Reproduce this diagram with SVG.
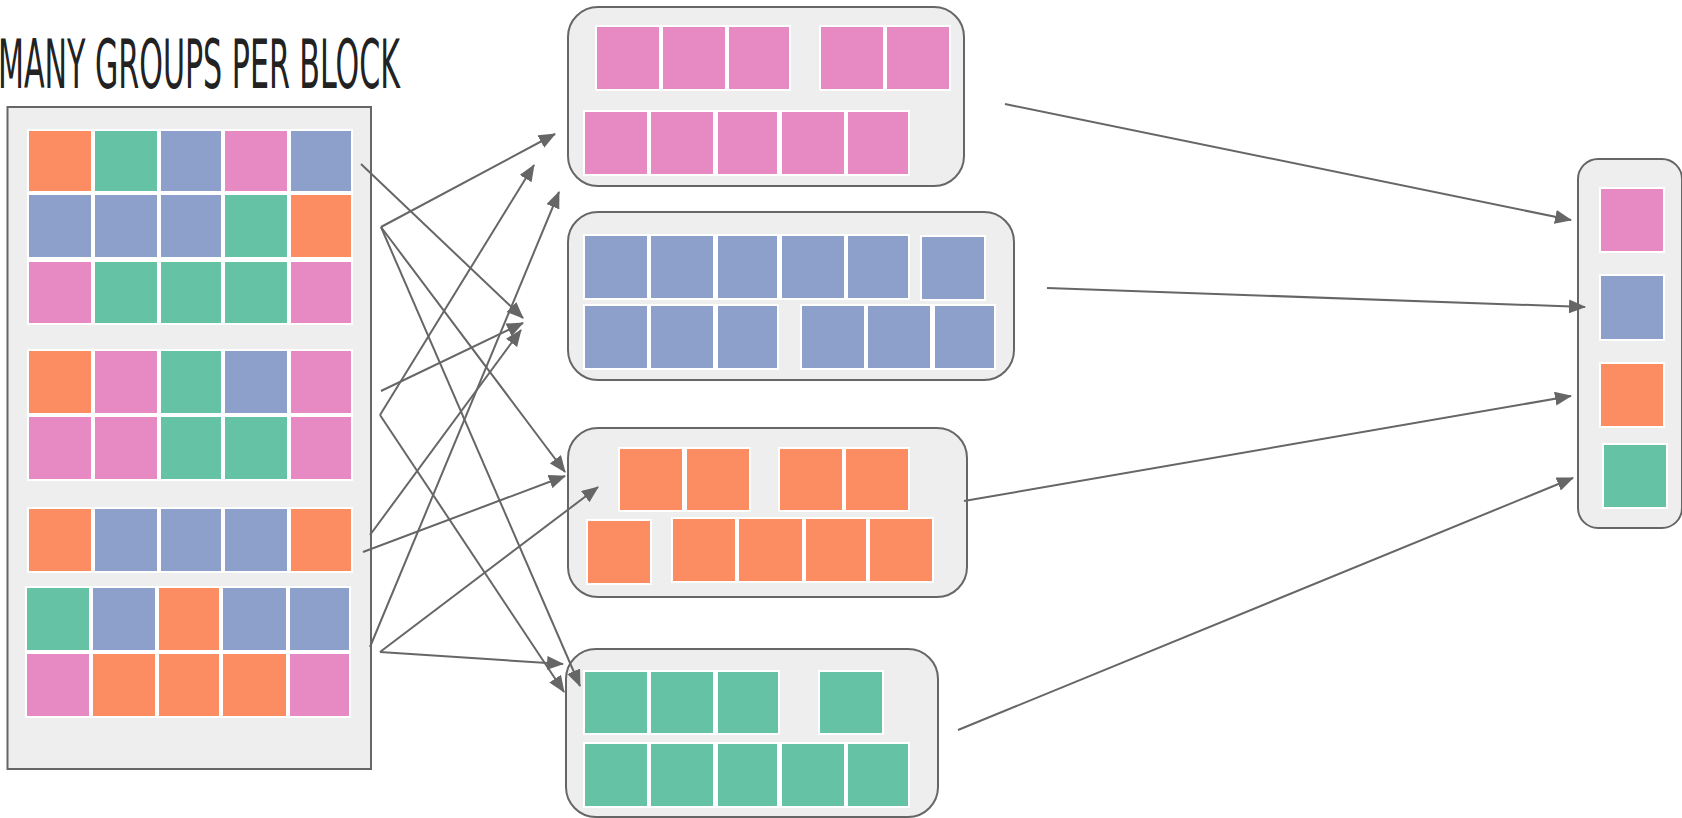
<svg xmlns="http://www.w3.org/2000/svg" width="1682" height="818" viewBox="0 0 1682 818">
<defs>
<style>
.blk{fill:#eeeeee;stroke:#666666;stroke-width:2}
.bg{fill:#ffffff}
.o{fill:#fc8d62}
.g{fill:#66c2a5}
.b{fill:#8da0cb}
.p{fill:#e78ac3}
.c{fill:none;stroke:#666666;stroke-width:2;marker-end:url(#ah)}
.title{font-family:"Liberation Sans Narrow","DejaVu Sans Condensed","Liberation Sans",sans-serif;font-size:68px;fill:#222222}
</style>
<marker id="ah" viewBox="0 0 17 14" refX="16" refY="7" markerWidth="17" markerHeight="14" markerUnits="userSpaceOnUse" orient="auto">
<path d="M0,0 L17,7 L0,14 z" fill="#666666"/>
</marker>
</defs>
<rect width="1682" height="818" fill="#ffffff"/>

<text class="title" x="-2" y="88" textLength="402" lengthAdjust="spacingAndGlyphs">MANY GROUPS PER BLOCK</text>

<g id="source-block">
<rect class="blk" x="7.5" y="107" width="363.5" height="662"/>
<g id="src-group1">
<rect class="bg" x="27" y="129" width="326" height="196"/>
<rect class="o" x="29" y="131" width="62" height="60"/><rect class="g" x="95" y="131" width="62" height="60"/><rect class="b" x="161" y="131" width="60" height="60"/><rect class="p" x="225" y="131" width="62" height="60"/><rect class="b" x="291" y="131" width="60" height="60"/>
<rect class="b" x="29" y="195" width="62" height="62"/><rect class="b" x="95" y="195" width="62" height="62"/><rect class="b" x="161" y="195" width="60" height="62"/><rect class="g" x="225" y="195" width="62" height="62"/><rect class="o" x="291" y="195" width="60" height="62"/>
<rect class="p" x="29" y="262" width="62" height="61"/><rect class="g" x="95" y="262" width="62" height="61"/><rect class="g" x="161" y="262" width="60" height="61"/><rect class="g" x="225" y="262" width="62" height="61"/><rect class="p" x="291" y="262" width="60" height="61"/>
</g>
<g id="src-group2">
<rect class="bg" x="27" y="349" width="326" height="132"/>
<rect class="o" x="29" y="351" width="62" height="62"/><rect class="p" x="95" y="351" width="62" height="62"/><rect class="g" x="161" y="351" width="60" height="62"/><rect class="b" x="225" y="351" width="62" height="62"/><rect class="p" x="291" y="351" width="60" height="62"/>
<rect class="p" x="29" y="417" width="62" height="62"/><rect class="p" x="95" y="417" width="62" height="62"/><rect class="g" x="161" y="417" width="60" height="62"/><rect class="g" x="225" y="417" width="62" height="62"/><rect class="p" x="291" y="417" width="60" height="62"/>
</g>
<g id="src-group3">
<rect class="bg" x="27" y="507" width="326" height="66"/>
<rect class="o" x="29" y="509" width="62" height="62"/><rect class="b" x="95" y="509" width="62" height="62"/><rect class="b" x="161" y="509" width="60" height="62"/><rect class="b" x="225" y="509" width="62" height="62"/><rect class="o" x="291" y="509" width="60" height="62"/>
</g>
<g id="src-group4">
<rect class="bg" x="25" y="586" width="326" height="132"/>
<rect class="g" x="27" y="588" width="62" height="62"/><rect class="b" x="93" y="588" width="62" height="62"/><rect class="o" x="159" y="588" width="60" height="62"/><rect class="b" x="223" y="588" width="63" height="62"/><rect class="b" x="290" y="588" width="59" height="62"/>
<rect class="p" x="27" y="654" width="62" height="62"/><rect class="o" x="93" y="654" width="62" height="62"/><rect class="o" x="159" y="654" width="60" height="62"/><rect class="o" x="223" y="654" width="63" height="62"/><rect class="p" x="290" y="654" width="59" height="62"/>
</g>
</g>

<g id="pink-block">
<rect class="blk" x="568" y="7" width="396" height="179" rx="30"/>
<rect class="bg" x="595" y="25" width="196" height="66"/><rect class="bg" x="819" y="25" width="132" height="66"/><rect class="bg" x="583" y="110" width="327" height="66"/>
<rect class="p" x="597" y="27" width="62" height="62"/><rect class="p" x="663" y="27" width="62" height="62"/><rect class="p" x="729" y="27" width="60" height="62"/><rect class="p" x="821" y="27" width="62" height="62"/><rect class="p" x="887" y="27" width="62" height="62"/>
<rect class="p" x="585" y="112" width="62" height="62"/><rect class="p" x="651" y="112" width="62" height="62"/><rect class="p" x="718" y="112" width="59" height="62"/><rect class="p" x="782" y="112" width="62" height="62"/><rect class="p" x="848" y="112" width="60" height="62"/>
</g>

<g id="blue-block">
<rect class="blk" x="568" y="212" width="446" height="168" rx="30"/>
<rect class="bg" x="583" y="234" width="327" height="66"/><rect class="bg" x="920" y="235" width="66" height="66"/><rect class="bg" x="583" y="304" width="196" height="66"/><rect class="bg" x="800" y="304" width="196" height="66"/>
<rect class="b" x="585" y="236" width="62" height="62"/><rect class="b" x="651" y="236" width="62" height="62"/><rect class="b" x="718" y="236" width="59" height="62"/><rect class="b" x="782" y="236" width="62" height="62"/><rect class="b" x="848" y="236" width="60" height="62"/><rect class="b" x="922" y="237" width="62" height="62"/>
<rect class="b" x="585" y="306" width="62" height="62"/><rect class="b" x="651" y="306" width="62" height="62"/><rect class="b" x="718" y="306" width="59" height="62"/><rect class="b" x="802" y="306" width="62" height="62"/><rect class="b" x="868" y="306" width="62" height="62"/><rect class="b" x="935" y="306" width="59" height="62"/>
</g>

<g id="orange-block">
<rect class="blk" x="568" y="428" width="399" height="169" rx="30"/>
<rect class="bg" x="618" y="447" width="133" height="65"/><rect class="bg" x="778" y="447" width="132" height="65"/><rect class="bg" x="586" y="519" width="66" height="66"/><rect class="bg" x="671" y="517" width="263" height="66"/>
<rect class="o" x="620" y="449" width="62" height="61"/><rect class="o" x="687" y="449" width="62" height="61"/><rect class="o" x="780" y="449" width="62" height="61"/><rect class="o" x="846" y="449" width="62" height="61"/>
<rect class="o" x="588" y="521" width="62" height="62"/><rect class="o" x="673" y="519" width="62" height="62"/><rect class="o" x="739" y="519" width="63" height="62"/><rect class="o" x="806" y="519" width="60" height="62"/><rect class="o" x="870" y="519" width="62" height="62"/>
</g>

<g id="green-block">
<rect class="blk" x="566" y="649" width="372" height="168" rx="30"/>
<rect class="bg" x="583" y="670" width="197" height="65"/><rect class="bg" x="818" y="670" width="66" height="65"/><rect class="bg" x="583" y="742" width="327" height="66"/>
<rect class="g" x="585" y="672" width="62" height="61"/><rect class="g" x="651" y="672" width="62" height="61"/><rect class="g" x="718" y="672" width="60" height="61"/><rect class="g" x="820" y="672" width="62" height="61"/>
<rect class="g" x="585" y="744" width="62" height="62"/><rect class="g" x="651" y="744" width="62" height="62"/><rect class="g" x="718" y="744" width="59" height="62"/><rect class="g" x="782" y="744" width="62" height="62"/><rect class="g" x="848" y="744" width="60" height="62"/>
</g>

<g id="result-block">
<rect class="blk" x="1578" y="159" width="104" height="369" rx="20"/>
<rect class="bg" x="1599" y="187" width="66" height="66"/><rect class="bg" x="1599" y="274" width="66" height="67"/><rect class="bg" x="1599" y="362" width="66" height="66"/><rect class="bg" x="1602" y="443" width="66" height="66"/>
<rect class="p" x="1601" y="189" width="62" height="62"/>
<rect class="b" x="1601" y="276" width="62" height="63"/>
<rect class="o" x="1601" y="364" width="62" height="62"/>
<rect class="g" x="1604" y="445" width="62" height="62"/>
</g>

<g id="connectors">
<line class="c" x1="361" y1="164" x2="523" y2="318"/>
<line class="c" x1="381" y1="227" x2="555" y2="134"/>
<line class="c" x1="381" y1="227" x2="580" y2="686"/>
<line class="c" x1="381" y1="227" x2="565" y2="472"/>
<line class="c" x1="381" y1="391" x2="523" y2="323"/>
<line class="c" x1="380" y1="415" x2="534" y2="165"/>
<line class="c" x1="380" y1="415" x2="564" y2="692"/>
<line class="c" x1="370" y1="535" x2="521" y2="330"/>
<line class="c" x1="363" y1="552" x2="565" y2="476"/>
<line class="c" x1="370" y1="647" x2="559" y2="192"/>
<line class="c" x1="380" y1="652" x2="598" y2="487"/>
<line class="c" x1="380" y1="652" x2="563" y2="664"/>
<line class="c" x1="1005" y1="104" x2="1571" y2="220"/>
<line class="c" x1="1047" y1="288" x2="1585" y2="307"/>
<line class="c" x1="964" y1="501" x2="1571" y2="396"/>
<line class="c" x1="958" y1="730" x2="1573" y2="478"/>
</g>
</svg>
